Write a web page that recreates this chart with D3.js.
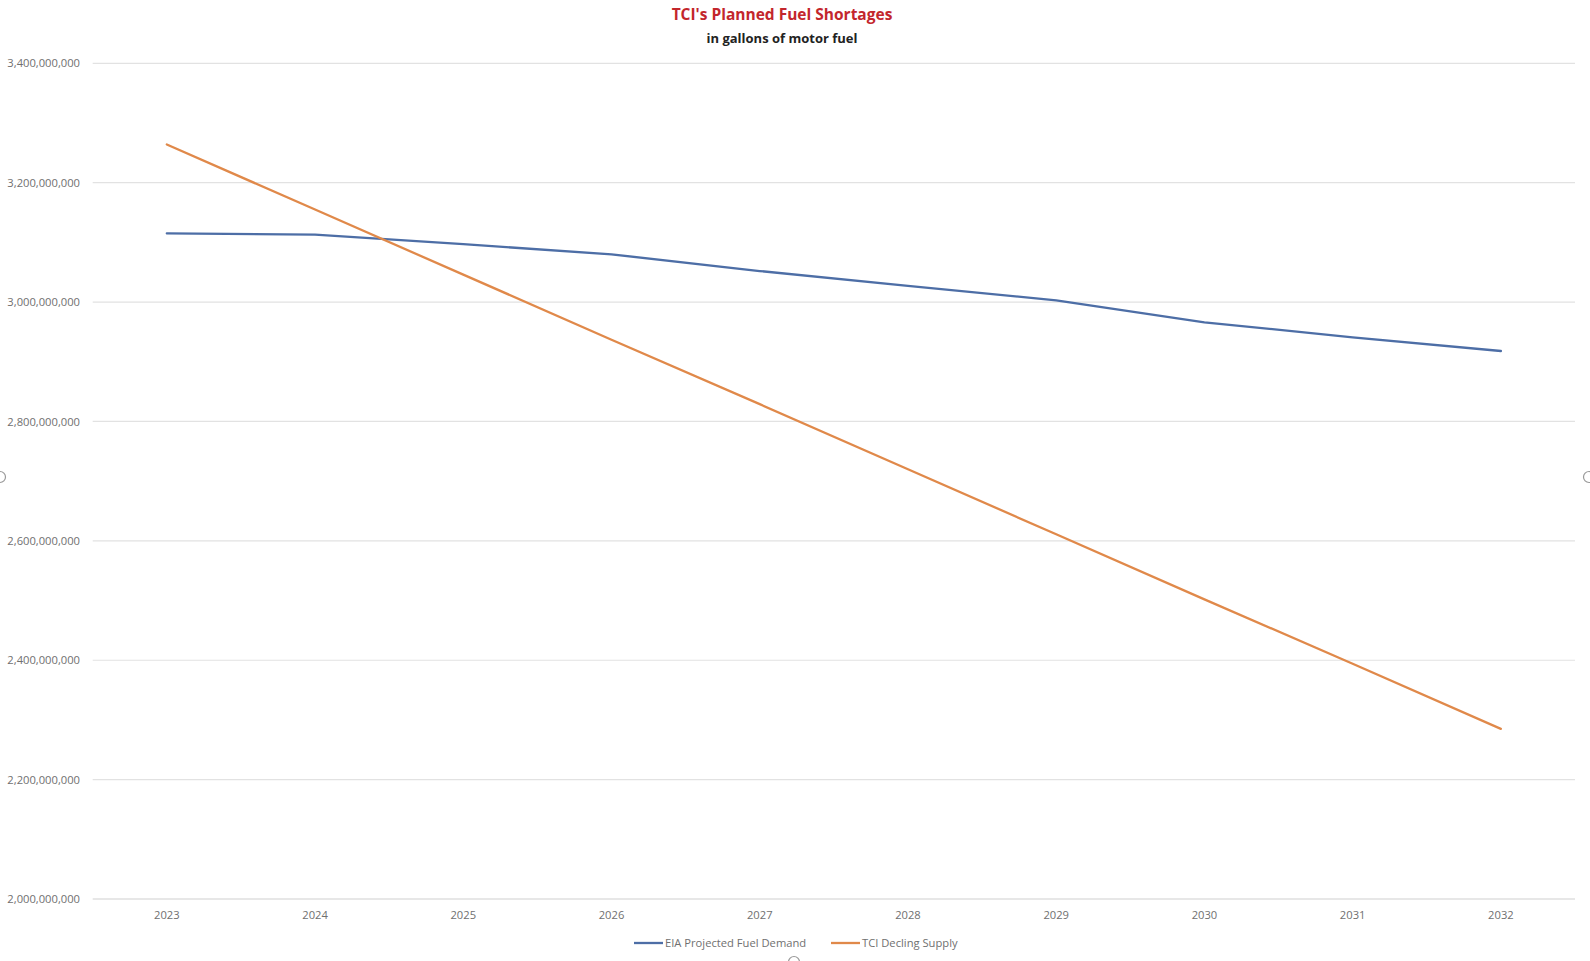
<!DOCTYPE html>
<html>
<head>
<meta charset="utf-8">
<script src="https://cdn.jsdelivr.net/npm/d3@7"></script>
<style>
  html, body { margin: 0; padding: 0; background: #fff; }
  svg { display: block; }
</style>
</head>
<body>
<svg id="chart" width="1590" height="961"></svg>
<script>
const years = ["2023","2024","2025","2026","2027","2028","2029","2030","2031","2032"];
const demand = [3115000000, 3113000000, 3097000000, 3080000000, 3052000000, 3027000000, 3003000000, 2966000000, 2941000000, 2918000000];
const supply = [3264000000, 3155000000, 3046000000, 2937000000, 2829000000, 2720000000, 2611000000, 2502000000, 2394000000, 2285000000];
const yTicks = [2000000000, 2200000000, 2400000000, 2600000000, 2800000000, 3000000000, 3200000000, 3400000000];
const seriesNames = ["EIA Projected Fuel Demand", "TCI Decling Supply"];
const seriesColors = ["#4d6ea6", "#e0894a"];

(function () {
const svg = d3.select("#chart");
const mLeft = 92.7, mRight = 1575, mTop = 63.3, mBottom = 899;
const font = "'Open Sans', Lato, sans-serif";

const x = d3.scaleBand().domain(years).range([mLeft, mRight]);
const y = d3.scaleLinear().domain([2000000000, 3400000000]).range([mBottom, mTop]);

// gridlines
svg.append("g").selectAll("line").data(yTicks).join("line")
  .attr("x1", mLeft).attr("x2", mRight)
  .attr("y1", d => y(d)).attr("y2", d => y(d))
  .attr("stroke", d => d === 2000000000 ? "#d0d0d0" : "#e2e2e2").attr("stroke-width", 1.2);

// y axis labels
const yAxis = d3.axisLeft(y).tickValues(yTicks).tickFormat(d3.format(",")).tickSize(0).tickPadding(0);
const gy = svg.append("g").attr("transform", `translate(80,0)`).call(yAxis);
gy.select(".domain").remove();
gy.selectAll("text").attr("font-family", font).attr("font-size", 11.2).attr("fill", "#707070");

// x axis labels
const xAxis = d3.axisBottom(x).tickSize(0).tickPadding(0);
const gx = svg.append("g").attr("transform", `translate(0,911)`).call(xAxis);
gx.select(".domain").remove();
gx.selectAll("text").attr("font-family", font).attr("font-size", 11.2).attr("fill", "#707070");

// lines
const line = d3.line().x((d, i) => x(years[i]) + x.bandwidth() / 2).y(d => y(d));
[demand, supply].forEach((s, i) => {
  svg.append("path").datum(s)
    .attr("fill", "none").attr("stroke", seriesColors[i])
    .attr("stroke-width", 2.3).attr("stroke-linejoin", "round").attr("stroke-linecap", "round")
    .attr("d", line);
});

// title
svg.append("text").attr("x", 782).attr("y", 20).attr("text-anchor", "middle")
  .attr("font-family", font).attr("font-weight", "bold").attr("font-size", 15.5)
  .attr("fill", "#c3262c").text("TCI's Planned Fuel Shortages");
svg.append("text").attr("x", 782).attr("y", 43).attr("text-anchor", "middle")
  .attr("font-family", font).attr("font-weight", "bold").attr("font-size", 13)
  .attr("fill", "#222").text("in gallons of motor fuel");

// legend
const legendX = [634, 831];
seriesNames.forEach((n, i) => {
  const g = svg.append("g").attr("transform", `translate(${legendX[i]},943)`);
  g.append("line").attr("x1", 0).attr("x2", 29).attr("y1", 0).attr("y2", 0)
    .attr("stroke", seriesColors[i]).attr("stroke-width", 2.3);
  g.append("text").attr("x", 31).attr("y", 4).attr("font-family", font)
    .attr("font-size", 11.2).attr("fill", "#707070").text(n);
});

// selection handles of the embedded chart
[[0, 477], [1589, 477], [794, 962]].forEach(p => {
  svg.append("circle").attr("cx", p[0]).attr("cy", p[1]).attr("r", 5.5)
    .attr("fill", "#fff").attr("stroke", "#999").attr("stroke-width", 1.2);
});
})();
</script>
</body>
</html>
